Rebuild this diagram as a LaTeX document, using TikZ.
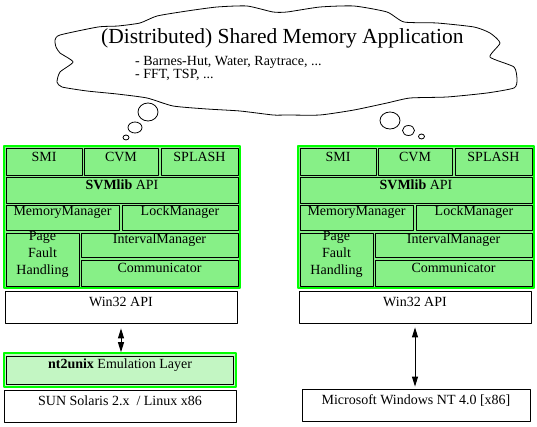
\documentclass[tikz,border=0pt]{standalone}
\usepackage{fontspec}
\setmainfont{Liberation Serif}
\usetikzlibrary{arrows.meta,fit}
\definecolor{dotgreen}{RGB}{135,240,135}
\definecolor{palegreen}{RGB}{195,246,195}
\definecolor{framegreen}{RGB}{0,255,0}
\tikzset{
  cell/.style={draw=black,line width=.8pt,fill=dotgreen,inner sep=0pt,align=center},
  plainbox/.style={draw=black,line width=.8pt,fill=white,inner sep=0pt},
  gframe/.style={draw=framegreen,line width=1.6pt,fill=dotgreen,inner sep=0pt},
  updown/.style={{Triangle[length=10pt,width=6pt]}-{Triangle[length=10pt,width=6pt]},line width=1pt}
}
\begin{document}
\begin{tikzpicture}[x=1pt,y=-1pt,line cap=round,line join=round,font=\fontsize{14}{17}\selectfont]
    \useasboundingbox (0,0) rectangle (537,427);
    % the thought cloud
    \draw[line width=.8pt] plot[smooth cycle,tension=.35] coordinates {
        (55,40) (60,35) (98,27) (118,26) (140,23) (157,16) (187,11) (217,7) (247,6) (273,12)
        (287,12) (320,7) (354,6) (387,12) (404,22) (437,23) (474,27) (490,33) (500,43) (490,57)
        (514,67) (517,80) (514,88) (487,93) (447,97) (410,98) (387,103) (354,110) (320,115) (287,115)
        (273,115) (240,111) (207,109) (173,106) (147,98) (117,94) (87,91) (62,87) (57,82) (60,72)
        (73,62) (60,53) (56,47)};
    \node[anchor=base west,inner sep=0pt,font=\fontsize{21.5}{25}\selectfont] (title) at (101,44) {(Distributed) Shared Memory Application};
    \node[anchor=base west,inner sep=0pt] (apps1) at (135,66) {- Barnes-Hut, Water, Raytrace, ...};
    \node[anchor=base west,inner sep=0pt] (apps2) at (135,79) {- FFT, TSP, ...};
    \draw[line width=.8pt] (148,112) ellipse [x radius=10,y radius=9] (135,127.5) ellipse [x radius=7,y radius=5.5]
        (126,137.5) ellipse [x radius=3,y radius=2.5];
    \draw[line width=.8pt] (390,120.5) ellipse [x radius=10,y radius=8.5] (408.5,130.5) ellipse [x radius=6,y radius=5]
        (421.5,136.5) ellipse [x radius=3,y radius=2.5];
    % the two SVMlib stacks
    \foreach \s/\dx in {L/0,R/294}{
        \node[gframe,fit={(4+\dx,146) (240+\dx,288)}] (stack\s) {};
        \node[cell,fit={(6+\dx,148) (82+\dx,175)}] (smi\s) {SMI};
        \node[cell,fit={(84+\dx,148) (158+\dx,175)}] (cvm\s) {CVM};
        \node[cell,fit={(161+\dx,148) (238+\dx,175)}] (splash\s) {SPLASH};
        \node[cell,fit={(6+\dx,177) (238+\dx,203)}] (api\s) {\textbf{SVMlib} API};
        \node[cell,fit={(6+\dx,205) (119+\dx,230)}] (mem\s) {MemoryManager};
        \node[cell,fit={(122+\dx,205) (238+\dx,230)}] (lock\s) {LockManager};
        \node[cell,fit={(6+\dx,233) (79+\dx,286)}] (page\s) {Page\\Fault\\Handling};
        \node[cell,fit={(81+\dx,233) (238+\dx,257)}] (int\s) {IntervalManager};
        \node[cell,fit={(81+\dx,260) (238+\dx,286)}] (comm\s) {Communicator};
        \node[plainbox,fit={(5+\dx,291) (237+\dx,323)}] (win\s) {Win32\ API};
    }
    % bottom layers
    \node[gframe,fill=palegreen,fit={(4,353) (236,387)}] (emuframe) {};
    \node[draw=black,line width=.8pt,inner sep=0pt,fit={(6.5,356) (233.5,384)}] (emu) {\textbf{nt2unix} Emulation\ Layer};
    \node[plainbox,fit={(4,390) (236,422)}] (sun) {SUN Solaris 2.x\ \ / Linux x86};
    \node[plainbox,fit={(302,389) (530,421)}] (ms) {Microsoft Windows NT 4.0 [x86]};
    \draw[updown,shorten <=5pt] (winL.south) -- (winL.south |- emuframe.north);
    \draw[updown,shorten <=4pt,shorten >=2pt] (winR.south) -- (winR.south |- ms.north);
\end{tikzpicture}
\end{document}
